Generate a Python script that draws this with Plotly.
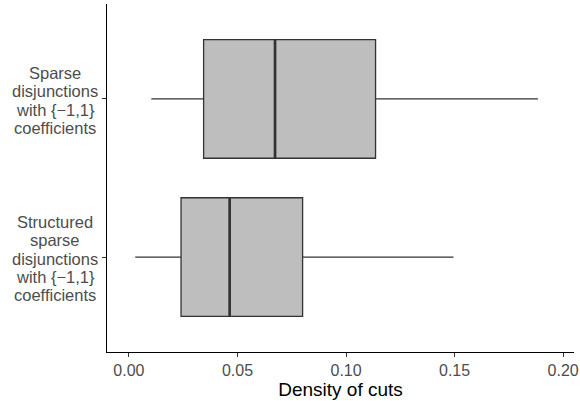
import plotly.graph_objects as go

# Data
categories = ["Structured sparse disjunctions with {\u22121,1} coefficients",
              "Sparse disjunctions with {\u22121,1} coefficients"]
category_lines = [["Structured", "sparse", "disjunctions", "with {\u22121,1}", "coefficients"],
                  ["Sparse", "disjunctions", "with {\u22121,1}", "coefficients"]]
positions = [0, 1]
lower_whisker = [0.0029, 0.0103]
q1 = [0.0240, 0.0344]
median = [0.0464, 0.0673]
q3 = [0.0800, 0.1136]
upper_whisker = [0.1495, 0.1884]
x_ticks = [0.00, 0.05, 0.10, 0.15, 0.20]
x_tick_labels = ["0.00", "0.05", "0.10", "0.15", "0.20"]

BOX_W = 0.75
LINE_COL = "#333333"
FILL = "#BEBEBE"
FONT = "Liberation Sans, Arial, sans-serif"
ML, MR = 107, 6
PLOT_W = 580 - ML - MR

fig = go.Figure()
fig.add_trace(go.Box(
    orientation="h",
    y=positions,
    q1=q1, median=median, q3=q3,
    lowerfence=lower_whisker, upperfence=upper_whisker,
    width=BOX_W,
    whiskerwidth=0,
    fillcolor=FILL,
    line=dict(color=LINE_COL, width=1.3),
    boxpoints=False,
    showlegend=False,
    hoverinfo="skip",
))

# thicker median lines (ggplot fatten = 2)
mx, my = [], []
for p, m in zip(positions, median):
    mx += [m, m, None]
    my += [p - BOX_W / 2, p + BOX_W / 2, None]
fig.add_trace(go.Scatter(x=mx, y=my, mode="lines",
                         line=dict(color=LINE_COL, width=2.7),
                         showlegend=False, hoverinfo="skip"))

# multi-line category labels (tight line spacing like ggplot)
LINE_H = 18.3
LABEL_CX = 55  # label centre, px from left of figure
annotations = []
for p, lines in zip(positions, category_lines):
    n = len(lines)
    for i, t in enumerate(lines):
        annotations.append(dict(
            x=(LABEL_CX - ML) / PLOT_W, xref="paper", y=p, yref="y",
            text=t, showarrow=False, xanchor="center", yanchor="middle",
            yshift=-(i - (n - 1) / 2) * LINE_H - 1.5,
            font=dict(family=FONT, size=16.5, color="#4D4D4D"),
        ))

fig.update_layout(
    width=580, height=401,
    margin=dict(l=ML, r=MR, t=4, b=49, autoexpand=False),
    paper_bgcolor="white", plot_bgcolor="white",
    annotations=annotations,
    xaxis=dict(
        range=[-0.0101, 0.205],
        tickvals=x_ticks, ticktext=x_tick_labels,
        showgrid=False, zeroline=False,
        showline=True, linecolor="black", linewidth=1.2,
        ticks="outside", ticklen=3.5, tickwidth=1.2, tickcolor=LINE_COL,
        tickfont=dict(family=FONT, size=16, color="#4D4D4D"),
        title=dict(text="Density of cuts", font=dict(family=FONT, size=19, color="black"), standoff=1),
        automargin=False,
    ),
    yaxis=dict(
        range=[-0.6, 1.6],
        tickvals=positions, showticklabels=False,
        showgrid=False, zeroline=False,
        showline=True, linecolor="black", linewidth=1.2,
        ticks="outside", ticklen=3.5, tickwidth=1.2, tickcolor=LINE_COL,
        automargin=False,
    ),
)

fig.write_html("out.html", config={"displayModeBar": False},
               post_script="document.body.style.margin='0';document.body.style.overflow='hidden';")
